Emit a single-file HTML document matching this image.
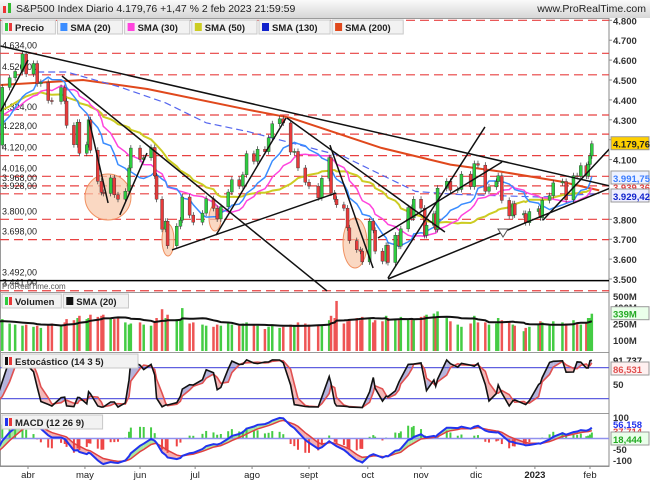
<!DOCTYPE html>
<html><head><meta charset="utf-8">
<style>
body{margin:0;background:#fff;}
svg{display:block;font-family:"Liberation Sans",sans-serif;}
</style></head>
<body>
<svg id="chart" width="650" height="483" viewBox="0 0 650 483">
<defs>
<linearGradient id="tg" x1="0" y1="0" x2="0" y2="1"><stop offset="0" stop-color="#fafafa"/><stop offset="1" stop-color="#d6d6d6"/></linearGradient>
<clipPath id="cp"><rect x="0" y="18" width="609" height="274"/></clipPath>
<clipPath id="cv"><rect x="0" y="292" width="609" height="60"/></clipPath>
<clipPath id="cs"><rect x="0" y="352" width="609" height="61"/></clipPath>
<clipPath id="cm"><rect x="0" y="413" width="609" height="53"/></clipPath>
</defs>
<rect x="0" y="0" width="650" height="18" fill="url(#tg)"/>
<g><rect x="3" y="6" width="3" height="7" fill="#e33"/><rect x="8" y="3" width="3" height="10" fill="#3b3"/></g>
<text x="16" y="12" font-size="10.5" fill="#222">S&amp;P500 Index Diario 4.179,76 +1,47 % 2 feb 2023 21:59:59</text>
<text x="646" y="12" font-size="10.5" fill="#222" text-anchor="end">www.ProRealTime.com</text>
<g id="panels"></g>
<g id="pricePanel" clip-path="url(#cp)"></g>
<g id="volPanel" clip-path="url(#cv)"></g>
<g id="stochPanel" clip-path="url(#cs)"></g>
<g id="macdPanel" clip-path="url(#cm)"></g>
<g id="overlay"></g>
</svg>
<script>
const dates=["2022-02-01","2022-02-10","2022-02-18","2022-02-24","2022-03-01","2022-03-08","2022-03-14","2022-03-18","2022-03-22","2022-03-25",
"2022-03-29","2022-03-31","2022-04-04","2022-04-06","2022-04-08","2022-04-12","2022-04-14","2022-04-19","2022-04-21","2022-04-22",
"2022-04-26","2022-04-28","2022-04-29","2022-05-03","2022-05-04","2022-05-05","2022-05-09","2022-05-11","2022-05-12","2022-05-16",
"2022-05-18","2022-05-20","2022-05-24","2022-05-26","2022-05-27","2022-06-01","2022-06-03","2022-06-07","2022-06-09","2022-06-10",
"2022-06-13","2022-06-15","2022-06-16","2022-06-21","2022-06-23","2022-06-24","2022-06-28","2022-06-30","2022-07-05","2022-07-07",
"2022-07-11","2022-07-13","2022-07-15","2022-07-19","2022-07-21","2022-07-25","2022-07-27","2022-07-29","2022-08-02","2022-08-04",
"2022-08-08","2022-08-10","2022-08-12","2022-08-16","2022-08-18","2022-08-22","2022-08-24","2022-08-26","2022-08-30","2022-09-01",
"2022-09-06","2022-09-08","2022-09-12","2022-09-13","2022-09-15","2022-09-16","2022-09-20","2022-09-22","2022-09-23","2022-09-27",
"2022-09-29","2022-09-30","2022-10-04","2022-10-06","2022-10-07","2022-10-11","2022-10-13","2022-10-14","2022-10-18","2022-10-20",
"2022-10-21","2022-10-25","2022-10-27","2022-10-28","2022-11-01","2022-11-03","2022-11-04","2022-11-08","2022-11-09","2022-11-10",
"2022-11-15","2022-11-17","2022-11-21","2022-11-23","2022-11-28","2022-11-30","2022-12-02","2022-12-06","2022-12-08","2022-12-12",
"2022-12-13","2022-12-15","2022-12-19","2022-12-21","2022-12-22","2022-12-27","2022-12-28","2022-12-30","2023-01-04","2023-01-05",
"2023-01-06","2023-01-10","2023-01-12","2023-01-17","2023-01-19","2023-01-23","2023-01-25","2023-01-27","2023-01-30","2023-01-31",
"2023-02-01","2023-02-02"];
const closes=[4546,4504,4348,4288,4306,4170,4173,4463,4511,4543,
4631,4530,4583,4481,4488,4397,4392,4462,4394,4272,
4175,4288,4132,4175,4300,4147,3991,3935,3930,4008,
3923,3901,3941,4058,4158,4101,4109,4161,4018,3901,
3750,3790,3667,3765,3796,3912,3821,3785,3831,3903,
3855,3802,3863,3937,3999,3967,4024,4130,4091,4152,
4140,4210,4280,4305,4284,4138,4141,4058,3986,3967,
3908,4006,4110,3932,3901,3873,3856,3757,3693,3647,
3640,3586,3791,3745,3640,3589,3669,3583,3720,3665,
3752,3859,3807,3901,3856,3719,3770,3828,3749,3956,
3991,3946,3950,4027,3964,4080,4072,3941,3963,3990,
4019,3895,3817,3878,3822,3829,3783,3839,3853,3808,
3895,3919,3983,3990,3898,4019,4016,4070,4017,4076,
4119,4180];
const volumes=[250,240,250,260,270,280,260,290,250,240,
230,240,220,230,210,240,250,230,260,290,
280,300,320,290,300,330,310,320,330,300,
290,300,260,240,250,260,240,230,260,300,
380,300,330,290,280,390,250,260,240,230,
220,240,230,250,240,230,250,260,240,230,
200,220,230,210,220,240,230,260,250,240,
240,230,280,320,300,455,250,270,280,300,
280,310,290,260,280,270,320,300,290,280,
310,290,300,280,310,320,330,340,310,360,
300,270,240,220,250,320,260,260,240,250,
300,280,270,240,230,180,210,220,240,270,
260,240,270,260,250,280,250,240,260,300,
300,339];
const sma130Days=[5,21,50,75,97,120,172,211,233,279,311];
const sma130Vals=[4540,4540,4465,4385,4285,4240,4115,3940,3925,3912,3929];
const sma200Days=[-15,30,65,120,143,192,230,257,290,311];
const sma200Vals=[4475,4500,4455,4350,4310,4160,4075,4040,3990,3945];
const trendLines=[[-15,4671,317,3967],[18.5,4520,162.8,3440],[141,4309,227,3736],[78.4,3646,167.7,3932],
[102.4,3721,140.5,4309],[196,3500,317,3957],[196,3505,248.8,4264],[190.6,3706,258.1,4088],[164.4,4173,187.9,3555],
[280.4,3796,317,4158],[-15,4342,0,4600],[33.2,4299,43.6,3882],[50,3822,64.8,4133]];
const levelPrices=[4800,4634,4526,4324,4228,4120,4016,3968,3928,3800,3698,3441];
const levelLabels=["","4.634,00","4.526,00","4.324,00","4.228,00","4.120,00","4.016,00","3.968,00","3.928,00","3.800,00","3.698,00","3.441,00"];
const priceTicks=[4800,4700,4600,4500,4400,4300,4200,4100,3800,3700,3600,3500];
const priceTickLabels=["4.800","4.700","4.600","4.500","4.400","4.300","4.200","4.100","3.800","3.700","3.600","3.500"];
const monthLabels=["abr","may","jun","jul","ago","sept","oct","nov","dic","2023","feb"];
const monthDates=["2022-04-01","2022-05-02","2022-06-01","2022-07-01","2022-08-01","2022-09-01","2022-10-03","2022-11-01","2022-12-01","2023-01-02","2023-02-01"];

const NS="http://www.w3.org/2000/svg";
const T0=Date.UTC(2022,3,1);
function dayOf(s){const p=s.split("-");return (Date.UTC(+p[0],+p[1]-1,+p[2])-T0)/86400000;}
function xDay(d){return 28+d*562/306;}
function xOf(s){return xDay(dayOf(s));}
function yP(p){return 279-(p-3500)*0.199;}
function yV(v){return 351-v*0.11;}
function yS(v){return 409-v*0.517;}
function yM(v){return 438.5-v*0.215;}
function mk(tag,attrs,parent){const e=document.createElementNS(NS,tag);for(const k in attrs)e.setAttribute(k,attrs[k]);parent.appendChild(e);return e;}
function txt(parent,x,y,s,attrs){const e=mk("text",Object.assign({x:x,y:y},attrs||{}),parent);e.textContent=s;return e;}
function pts(arr){return arr.map(p=>p[0].toFixed(1)+","+p[1].toFixed(1)).join(" ");}

const panels=document.getElementById("panels");
const P=document.getElementById("pricePanel"),V=document.getElementById("volPanel"),S=document.getElementById("stochPanel"),M=document.getElementById("macdPanel"),O=document.getElementById("overlay");
[[18,274],[292,60],[352,61],[413,53]].forEach((r,i)=>{
 const e=mk("rect",{x:0.5,y:r[0]+0.5,width:608.5,height:r[1],fill:"#fff",stroke:"#9a9a9a"},panels);
 
 
});
mk("line",{x1:609,y1:18,x2:609,y2:466,stroke:"#888"},panels);
const days=dates.map(dayOf);

levelPrices.forEach((p,i)=>{
 const l=mk("line",{x1:0,x2:609,y1:yP(p),y2:yP(p),stroke:"#e84040","stroke-dasharray":"9,5","stroke-width":1.2},P);
 
 
 if(levelLabels[i]){const t=txt(P,2,yP(p)-5,levelLabels[i],{"font-size":9,fill:"#222"});
 
 }
});
const hl=mk("line",{x1:0,x2:609,y1:yP(3492),y2:yP(3492),stroke:"#000","stroke-width":1.5},P);


const hlt=txt(P,2,yP(3492)-5,"3.492,00",{"font-size":9,fill:"#222"});


txt(P,2,289,"ProRealTime.com",{"font-size":8,fill:"#555"});

[[108,197,23,23],[168,240,6,16],[355,243,12,25],[215,218,6,13]].forEach(c=>{
 const e=mk("ellipse",{cx:c[0],cy:c[1],rx:c[2],ry:c[3],fill:"#f8c8a8","fill-opacity":0.7,stroke:"#f09060"},P);
 
 
});

function smaCal(arr,win){return days.map((d,i)=>{let s=0,n=0;for(let j=i;j>=0&&d-days[j]<win;j--){s+=arr[j];n++;}return s/n;});}
const s20=smaCal(closes,28),s30=smaCal(closes,42),s50=smaCal(closes,70);
function drawLine(parent,xs,ys,stroke,w,name,dash){
 const e=mk("polyline",{points:pts(xs.map((x,i)=>[x,ys[i]])),fill:"none",stroke:stroke,"stroke-width":w},parent);
 if(dash)e.setAttribute("stroke-dasharray",dash);
 
 
 return e;
}
const xs=days.map(xDay);
drawLine(P,sma200Days.map(xDay),sma200Vals.map(yP),"#e0481c",2,"sma-200-line");
drawLine(P,sma130Days.map(xDay),sma130Vals.map(yP),"#5566ee",1.2,"sma-130-line","7,4");
drawLine(P,xs,s50.map(yP),"#cccc22",2,"sma-50-line");
drawLine(P,xs,s30.map(yP),"#ff44dd",1.5,"sma-30-line");
drawLine(P,xs,s20.map(yP),"#3a8cff",1.5,"sma-20-line");

closes.forEach((c,i)=>{
 const o=i>0?closes[i-1]:c;const x=xs[i];
 const top=yP(Math.max(o,c)),bot=yP(Math.min(o,c));
 const g=mk("g",{},P);
 
 
 mk("line",{x1:x,x2:x,y1:top-3,y2:bot+3,stroke:"#333","stroke-width":0.7},g);
 mk("rect",{x:x-1.5,y:top,width:3,height:Math.max(1,bot-top),fill:c>=o?"#2ecc40":"#e83a3a",stroke:"#333","stroke-width":0.4},g);
});

trendLines.forEach(t=>{
 const e=mk("line",{x1:xDay(t[0]),y1:yP(t[1]),x2:xDay(t[2]),y2:yP(t[3]),stroke:"#111","stroke-width":1.5},P);
 
 
});
const tri=mk("polygon",{points:"498,229 508,229 503,237",fill:"#fff",stroke:"#555"},P);



function legend(parent,y,items){let x=2;items.forEach(it=>{
 const g=mk("g",{},parent);
 
 
 const w=it[0].length*5.9+18;
 mk("rect",{x:x,y:y,width:w,height:14,fill:"#f2f2f2",stroke:"#c8c8c8"},g);
 if(it[1]==="pr"){mk("rect",{x:x+3,y:y+3,width:3,height:8,fill:"#2ecc40"},g);mk("rect",{x:x+7,y:y+3,width:3,height:8,fill:"#e83a3a"},g);}
 else if(it[1]==="st"){mk("rect",{x:x+3,y:y+3,width:3,height:8,fill:"#111"},g);mk("rect",{x:x+7,y:y+3,width:3,height:8,fill:"#e83a3a"},g);}
 else if(it[1]==="md"){mk("rect",{x:x+3,y:y+3,width:3,height:8,fill:"#2233ee"},g);mk("rect",{x:x+7,y:y+3,width:3,height:8,fill:"#e83a3a"},g);}
 else mk("rect",{x:x+3,y:y+3,width:7,height:8,fill:it[1]},g);
 txt(g,x+13,y+11,it[0],{"font-size":9.5,"font-weight":"bold",fill:"#222"});
 x+=w+2;});}
legend(O,20,[["Precio","pr"],["SMA (20)","#3a8cff"],["SMA (30)","#ff44dd"],["SMA (50)","#cccc22"],["SMA (130)","#1122cc"],["SMA (200)","#e0481c"]]);

const vS=smaCal(volumes,28);
volumes.forEach((v,i)=>{
 const up=i===0||closes[i]>=closes[i-1];
 const e=mk("rect",{x:xs[i]-1.25,y:yV(v),width:2.5,height:351-yV(v),fill:up?"#44cc44":"#ee5555"},V);
 
 
});
drawLine(V,xs,vS.map(yV),"#111",2,"volume-sma-20-line");
legend(O,294,[["Volumen","pr"],["SMA (20)","#111"]]);

const kRaw=closes.map((c,i)=>{let lo=c,hi=c;for(let j=i;j>=0&&days[i]-days[j]<20;j--){lo=Math.min(lo,closes[j]);hi=Math.max(hi,closes[j]);}
 lo-=15;hi+=15;return 100*(c-lo)/(hi-lo);});
const kS=kRaw.map((v,i)=>i>0?(v+kRaw[i-1])/2:v);
const dS=kS.map((v,i)=>i>1?(v+kS[i-1]+kS[i-2])/3:v);
for(let i=1;i<kS.length;i++){
 const e=mk("polygon",{points:pts([[xs[i-1],yS(kS[i-1])],[xs[i],yS(kS[i])],[xs[i],yS(dS[i])],[xs[i-1],yS(dS[i-1])]]),fill:kS[i]>=dS[i]?"#b4b4dc":"#f4b8b8"},S);
 
 
}
[80,20].forEach(v=>mk("line",{x1:0,x2:609,y1:yS(v),y2:yS(v),stroke:"#6060e0","stroke-width":1.2},S));
drawLine(S,xs,dS.map(yS),"#e05050",1.6,"stochastic-d-line");
drawLine(S,xs,kS.map(yS),"#111",1.6,"stochastic-k-line");
legend(O,354,[["Estocástico (14 3 5)","st"]]);

function ema(arr,n){const out=[];arr.forEach((v,i)=>{if(i===0){out.push(v);return;}const td=(days[i]-days[i-1])*5/7;const a=1-Math.pow(1-2/(n+1),td);out.push(out[i-1]+a*(v-out[i-1]));});return out;}
const e12=ema(closes,12),e26=ema(closes,26);
const macd=e12.map((v,i)=>v-e26[i]);
const sig=ema(macd,9);
for(let i=1;i<macd.length;i++){
 const e=mk("polygon",{points:pts([[xs[i-1],yM(macd[i-1])],[xs[i],yM(macd[i])],[xs[i],yM(sig[i])],[xs[i-1],yM(sig[i-1])]]),fill:macd[i]>=sig[i]?"#a8e8a0":"#f4b0b0"},M);
 
 
}
macd.forEach((m,i)=>{const h=(m-sig[i])*2;const y0=yM(0),y1=yM(h);
 const e=mk("rect",{x:xs[i]-1,y:Math.min(y0,y1),width:2,height:Math.abs(y1-y0),fill:h>=0?"#44cc44":"#ee4444"},M);
 
 
});
mk("line",{x1:0,x2:609,y1:yM(0),y2:yM(0),stroke:"#9090ee","stroke-width":1.5},M);
drawLine(M,xs,sig.map(yM),"#e04040",1.5,"macd-signal-line");
drawLine(M,xs,macd.map(yM),"#2233ee",2,"macd-line");
legend(O,415,[["MACD (12 26 9)","md"]]);

function rlab(y,s,color,box){
 if(box){mk("rect",{x:611,y:y-7,width:38,height:13,fill:box,stroke:"#999"},O);}
 const t=txt(O,613,y+4,s,{"font-size":9.5,"font-weight":"bold",fill:color||"#333"});
 
 
}
priceTicks.forEach((p,i)=>{mk("line",{x1:609,x2:612,y1:yP(p),y2:yP(p),stroke:"#888"},O);rlab(yP(p),priceTickLabels[i]);});
rlab(yP(4179.76),"4.179,76","#222","#ffd000");
rlab(178,"3.991,75","#3a7cff","#eef2ff");
rlab(187,"3.939,36","#e04848");
rlab(196,"3.929,42","#1122cc","#eeeeff");
rlab(yV(500),"500M");rlab(yV(400),"400M");rlab(yV(250),"250M");rlab(yV(100),"100M");
rlab(yV(339),"339M","#22aa22","#eaffea");
rlab(360,"91,737","#222");rlab(369,"86,531","#e05050","#fff0f0");rlab(384,"50");
rlab(417,"100");rlab(424,"56,158","#2233ee");rlab(431,"37,714","#e04040");rlab(439,"18,444","#22aa22","#eaffea");
rlab(449,"-50");rlab(460,"-100");

monthLabels.forEach((m,i)=>{const x=xOf(monthDates[i]);
 mk("line",{x1:x,x2:x,y1:466,y2:469,stroke:"#888"},O);
 const t=txt(O,x,478,m,{"font-size":9.5,"text-anchor":"middle",fill:"#222","font-weight":m==="2023"?"bold":"normal"});
 
 
});
mk("line",{x1:0,x2:609,y1:466,y2:466,stroke:"#888"},O);
</script>
</body></html>
